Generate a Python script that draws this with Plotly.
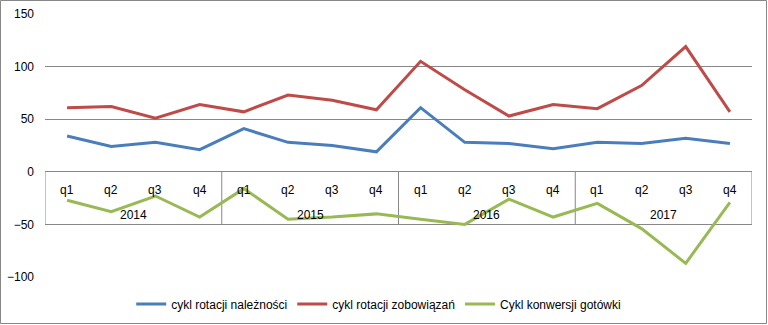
import plotly.graph_objects as go

years = ["2014", "2015", "2016", "2017"]
quarters = ["q1", "q2", "q3", "q4"]

naleznosci = [34, 24, 28, 21, 41, 28, 25, 19, 61, 28, 27, 22, 28, 27, 32, 27]
zobowiazania = [61, 62, 51, 64, 57, 73, 68, 59, 105, 78, 53, 64, 60, 82, 119, 57]
gotowka = [-27, -38, -23, -43, -16, -45, -43, -40, -45, -50, -26, -43, -30, -54, -87, -29]

series_names = ["cykl rotacji należności", "cykl rotacji zobowiązań", "Cykl konwersji gotówki"]
series_colors = ["#4A7EBB", "#BE4B48", "#98B954"]

W, H = 768, 325
ML, MR, MT, MB = 45, 16, 14, 48
FONT = "Liberation Sans"
GRID = "#878787"

n = len(years) * len(quarters)
xs = list(range(n))

fig = go.Figure()
for name, vals, col in zip(series_names, [naleznosci, zobowiazania, gotowka], series_colors):
    fig.add_trace(go.Scatter(x=xs, y=vals, mode="lines", name=name,
                             line=dict(color=col, width=3)))

shapes = []
annotations = []
nq = len(quarters)
for k in range(len(years) + 1):
    xb = k * nq - 0.5
    shapes.append(dict(type="line", xref="x", yref="y", x0=xb, x1=xb, y0=0, y1=-50,
                       line=dict(color=GRID, width=1), layer="below"))
for i in range(n):
    annotations.append(dict(x=i, y=-17.5, xref="x", yref="y", text=quarters[i % nq],
                            showarrow=False, font=dict(family=FONT, size=12, color="#000")))
for k, yr in enumerate(years):
    annotations.append(dict(x=k * nq + (nq - 1) / 2, y=-41, xref="x", yref="y", text=yr,
                            showarrow=False, font=dict(family=FONT, size=12, color="#000")))

# outer chart border
pw, ph = W - ML - MR, H - MT - MB
shapes.append(dict(type="rect", xref="paper", yref="paper",
                   x0=(0.5 - ML) / pw, x1=(W - 1.5 - ML) / pw,
                   y0=-(MB - 1.5) / ph, y1=(ph + MT - 0.5) / ph,
                   line=dict(color=GRID, width=1)))

fig.update_layout(
    template="none",
    width=W, height=H,
    margin=dict(l=ML, r=MR, t=MT, b=MB, autoexpand=False),
    paper_bgcolor="white", plot_bgcolor="white",
    font=dict(family=FONT, size=12, color="#000"),
    shapes=shapes, annotations=annotations,
    showlegend=True,
    legend=dict(orientation="h", x=0.472, xanchor="center", y=-0.103, yanchor="middle",
                font=dict(family=FONT, size=12, color="#000"),
                itemwidth=30, bgcolor="rgba(0,0,0,0)"),
    xaxis=dict(range=[-0.5, n - 0.5], showticklabels=False, showgrid=False,
               zeroline=False, showline=False, ticks="", automargin=False),
    yaxis=dict(range=[-100, 150], dtick=50, tick0=0, showgrid=True, gridcolor=GRID,
               gridwidth=1, zeroline=False, showline=False, ticks="", automargin=False,
               ticklabelstandoff=10, tickfont=dict(family=FONT, size=12, color="#000")),
)

fig.write_html("out.html")
